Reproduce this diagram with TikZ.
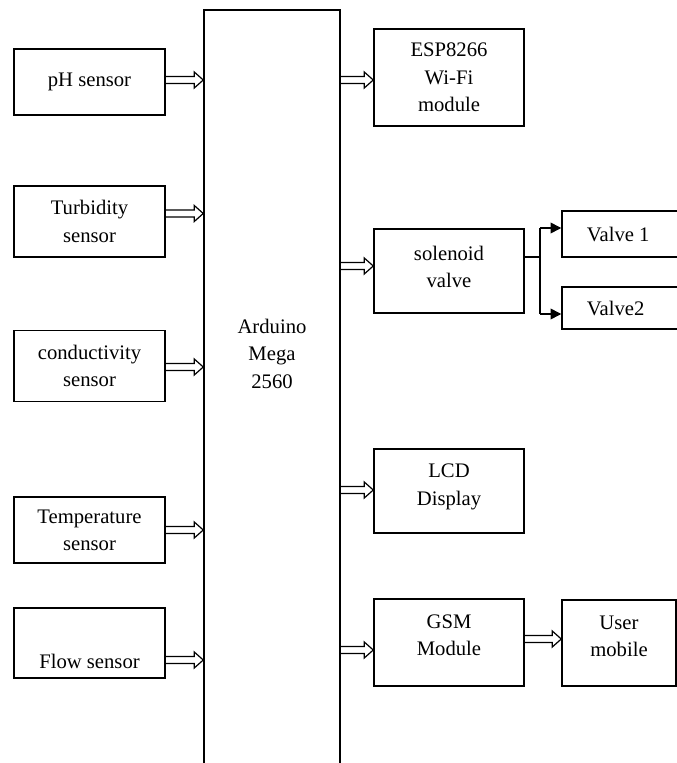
\documentclass[tikz,border=0pt]{standalone}
\usepackage{fontspec}
\setmainfont{Liberation Serif}
\usetikzlibrary{arrows.meta,calc}
\begin{document}
\begin{tikzpicture}[x=0.75pt,y=-0.75pt,
  txt/.style={align=center, font=\fontsize{15.5}{20.5}\selectfont},
  box/.style={draw, line width=1.1pt, inner sep=0pt, txt},
  blockarrow/.style={draw, line width=0.9pt, line join=miter,
    to path={($(\tikztostart)+(0,-3.5)$) -- ($(\tikztotarget)+(-9,-3.5)$)
      -- ($(\tikztotarget)+(-9,-8)$) -- (\tikztotarget) -- ($(\tikztotarget)+(-9,8)$)
      -- ($(\tikztotarget)+(-9,3.5)$) -- ($(\tikztostart)+(0,3.5)$)}},
  solid arrow/.style={line width=1.1pt, -{Triangle[length=8pt,width=8pt]}}]
\useasboundingbox (0,0) rectangle (677,763);
\clip (0,0) rectangle (677,763);
% left sensors
\node[box, minimum width=113.25pt, minimum height=49.5pt] (ph) at (89.5,82) {pH sensor};
\node[box, minimum width=113.25pt, minimum height=53.25pt] (turb) at (89.5,221.5) {Turbidity\\sensor};
\node[box, minimum width=113.25pt, minimum height=53.25pt] (cond) at (89.5,366) {conductivity\\sensor};
\node[box, minimum width=113.25pt, minimum height=49.5pt] (temp) at (89.5,530) {Temperature\\sensor};
\node[box, minimum width=113.25pt, minimum height=52.5pt,
  label={[txt, yshift=-14pt]center:Flow sensor}] (flow) at (89.5,643) {};
% central controller
\node[box, minimum width=102pt, minimum height=577.5pt,
  label={[txt, yshift=31pt]center:Arduino\\Mega\\2560}] (ard) at (272,395) {};
% right modules
\node[box, minimum width=112.5pt, minimum height=72.75pt] (esp) at (449,77.5) {ESP8266\\Wi-Fi\\module};
\node[box, minimum width=112.5pt, minimum height=63pt,
  label={[txt, yshift=3pt]center:solenoid\\valve}] (sol) at (449,271) {};
\node[box, minimum width=112.5pt, minimum height=63pt,
  label={[txt, yshift=3pt]center:LCD\\Display}] (lcd) at (449,491) {};
\node[box, minimum width=112.5pt, minimum height=65.25pt,
  label={[txt, yshift=5.5pt]center:GSM\\Module}] (gsm) at (449,642.5) {};
\node[box, minimum width=103.5pt, minimum height=34.5pt,
  label={[txt, anchor=west, xshift=15.75pt]west:Valve 1}] (v1) at (631,234) {};
\node[box, minimum width=103.5pt, minimum height=31.5pt,
  label={[txt, anchor=west, xshift=15.75pt]west:Valve2}] (v2) at (631,308) {};
\node[box, minimum width=85.5pt, minimum height=64.5pt,
  label={[txt, yshift=5pt]center:User\\mobile}] (mob) at (619,643) {};
% sensor arrows
\draw[blockarrow] (ph.east) ++(0,-2) coordinate (pa) to (pa -| ard.west);
\draw[blockarrow] (turb.east) ++(0,-8) coordinate (ta) to (ta -| ard.west);
\draw[blockarrow] (cond.east) ++(0,1) coordinate (ca) to (ca -| ard.west);
\draw[blockarrow] (temp.east) coordinate (tea) to (tea -| ard.west);
\draw[blockarrow] (flow.east) ++(0,17) coordinate (fa) to (fa -| ard.west);
% output arrows
\draw[blockarrow] (ard.east |- esp.west) ++(0,2.5) coordinate (ea) to (ea -| esp.west);
\draw[blockarrow] (ard.east |- sol.west) ++(0,-5) coordinate (sa) to (sa -| sol.west);
\draw[blockarrow] (ard.east |- lcd.west) ++(0,-1) coordinate (la) to (la -| lcd.west);
\draw[blockarrow] (ard.east |- gsm.west) ++(0,7.5) coordinate (ga) to (ga -| gsm.west);
\draw[blockarrow] (gsm.east) ++(0,-3.5) coordinate (ma) to (ma -| mob.west);
% solenoid to valves
\coordinate (jt) at (540,228);
\coordinate (jb) at (540,314);
\draw[line width=1.1pt] (sol.east) ++(0,-14) coordinate (sv) -- (sv -| jt);
\draw[line width=1.1pt] (jt) -- (jb);
\draw[solid arrow] (jt) -- (jt -| v1.west);
\draw[solid arrow] (jb) -- (jb -| v2.west);
\end{tikzpicture}
\end{document}
